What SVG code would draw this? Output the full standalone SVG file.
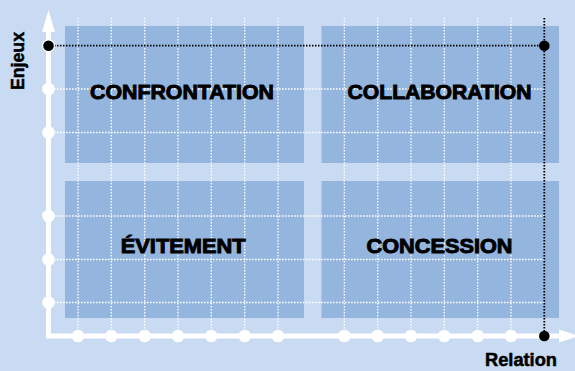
<svg xmlns="http://www.w3.org/2000/svg" width="575" height="371" viewBox="0 0 575 371">
  <style>
    .quad { fill: #94b6de; }
    .grid { stroke: #ffffff; stroke-width: 1.3; stroke-dasharray: 1.6 1.4; fill: none; }
    .guide { stroke: #000000; stroke-width: 1.8; stroke-dasharray: 1.5 1.5; fill: none; }
    .axis { stroke: #ffffff; stroke-width: 5; fill: none; stroke-linejoin: miter; }
    .tick { fill: #ffffff; }
    .mark { fill: #000000; }
    .qlabel { font-family: "Liberation Sans", Arial, sans-serif; font-weight: bold; font-size: 19.5px; fill: #000000; stroke: #000000; stroke-width: 0.9; text-anchor: middle; }
    .alabel { font-family: "Liberation Sans", Arial, sans-serif; font-weight: bold; font-size: 17.5px; fill: #000000; stroke: #000000; stroke-width: 0.5; text-anchor: middle; }
  </style>

  <!-- background -->
  <rect x="0" y="0" width="575" height="371" fill="#c8dbf2"/>

  <!-- quadrants -->
  <g id="confrontation">
    <rect class="quad" x="65" y="26" width="239" height="137"/>
  </g>
  <g id="collaboration">
    <rect class="quad" x="321.5" y="26" width="237.5" height="137"/>
  </g>
  <g id="evitement">
    <rect class="quad" x="65" y="181" width="239" height="137"/>
  </g>
  <g id="concession">
    <rect class="quad" x="321.5" y="181" width="237.5" height="137"/>
  </g>

  <!-- dotted grid -->
  <g id="grid">
    <path class="grid" d="M78 18V336 M111.3 18V336 M144.7 18V336 M178 18V336 M211.3 18V336 M244.7 18V336 M278 18V336 M344.3 18V336 M377.7 18V336 M411 18V336 M444.3 18V336 M477.7 18V336 M511 18V336"/>
    <path class="grid" d="M48 89H544 M48 132.5H544 M48 216H544 M48 259.5H544 M48 302.5H544"/>
  </g>

  <g id="connectors">
    <!-- reference lines to the corner point -->
    <path class="guide" d="M48 45.7H544.3 M544.3 18V336"/>
    <!-- axes -->
    <path class="axis" d="M48.5 30V336H562"/>
    <polygon fill="#ffffff" points="48.5,10 55,32 42,32"/>
    <polygon fill="#ffffff" points="579,336 559,329.5 559,342.5"/>
  </g>

  <!-- graduations -->
  <g id="ticks">
    <circle class="tick" cx="48.5" cy="45.7" r="6.5"/>
    <circle class="tick" cx="48.5" cy="89" r="6.3"/>
    <circle class="tick" cx="48.5" cy="132.5" r="6.3"/>
    <circle class="tick" cx="48.5" cy="216" r="6.3"/>
    <circle class="tick" cx="48.5" cy="259.5" r="6.3"/>
    <circle class="tick" cx="48.5" cy="302.5" r="6.3"/>
    <circle class="tick" cx="78" cy="336" r="6.3"/>
    <circle class="tick" cx="111.3" cy="336" r="6.3"/>
    <circle class="tick" cx="144.7" cy="336" r="6.3"/>
    <circle class="tick" cx="178" cy="336" r="6.3"/>
    <circle class="tick" cx="211.3" cy="336" r="6.3"/>
    <circle class="tick" cx="244.7" cy="336" r="6.3"/>
    <circle class="tick" cx="278" cy="336" r="6.3"/>
    <circle class="tick" cx="344.3" cy="336" r="6.3"/>
    <circle class="tick" cx="377.7" cy="336" r="6.3"/>
    <circle class="tick" cx="411" cy="336" r="6.3"/>
    <circle class="tick" cx="444.3" cy="336" r="6.3"/>
    <circle class="tick" cx="477.7" cy="336" r="6.3"/>
    <circle class="tick" cx="511" cy="336" r="6.3"/>
    <circle class="mark" cx="48.5" cy="45.7" r="5.3"/>
    <circle class="mark" cx="544.3" cy="45.7" r="5.3"/>
    <circle class="mark" cx="544.3" cy="336" r="5.3"/>
  </g>

  <!-- quadrant labels -->
  <g id="labels">
    <text class="qlabel" x="182" y="99" textLength="184" lengthAdjust="spacingAndGlyphs">CONFRONTATION</text>
    <text class="qlabel" x="439.5" y="99" textLength="184" lengthAdjust="spacingAndGlyphs">COLLABORATION</text>
    <text class="qlabel" x="183.2" y="252.5" textLength="125" lengthAdjust="spacingAndGlyphs">ÉVITEMENT</text>
    <text class="qlabel" x="439.5" y="252.5" textLength="146" lengthAdjust="spacingAndGlyphs">CONCESSION</text>
    <text class="alabel" transform="translate(24 61) rotate(-90)" x="0" y="0" textLength="58" lengthAdjust="spacingAndGlyphs">Enjeux</text>
    <text class="alabel" x="521" y="366" textLength="72" lengthAdjust="spacingAndGlyphs">Relation</text>
  </g>
</svg>
